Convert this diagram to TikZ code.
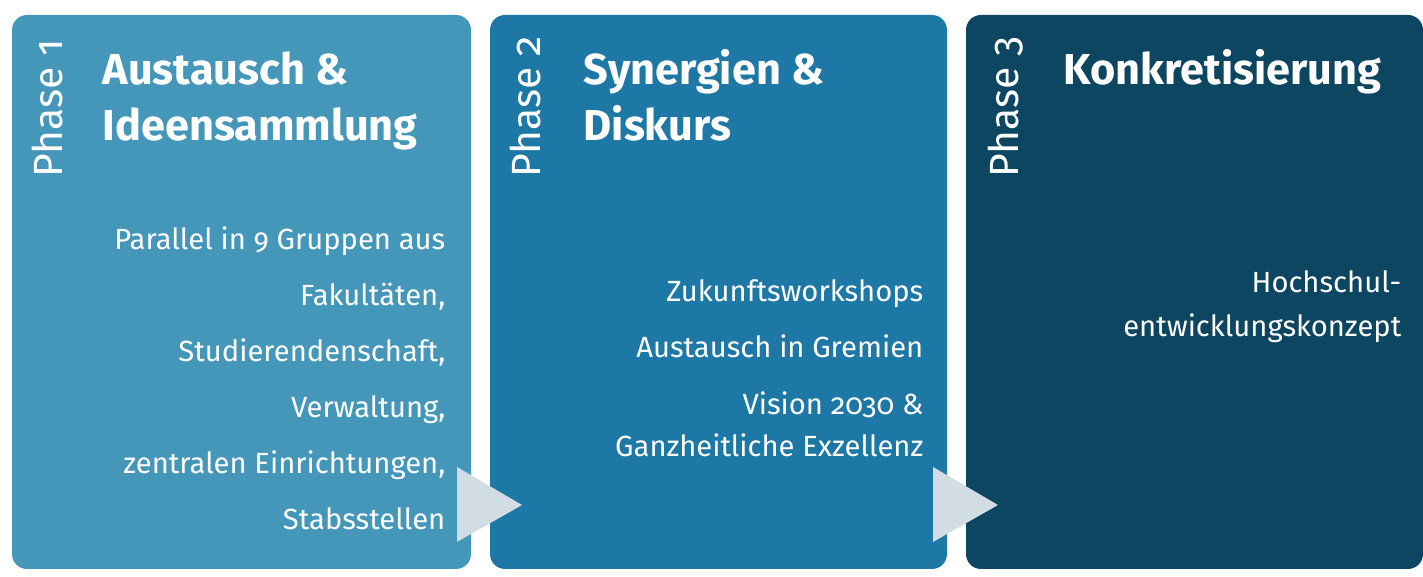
\documentclass[tikz,border=0pt]{standalone}
\usepackage{fontspec}
\setmainfont{Fira Sans}[Numbers=OldStyle]
\usepackage{tikz}

\definecolor{phaseA}{HTML}{4597BA}
\definecolor{phaseB}{HTML}{1E78A5}
\definecolor{phaseC}{HTML}{0D4661}
\definecolor{arrowgray}{HTML}{D1DDE2}

\tikzset{
  phasebox/.style={rounded corners=0.15cm},
  phaselabel/.style={text=white, inner sep=0pt, rotate=90, anchor=base west,
    font=\fontsize{11.6}{13}\selectfont},
  headline/.style={text=white, inner sep=0pt, anchor=base west,
    font=\bfseries\fontsize{12.3}{14}\selectfont},
  bodytext/.style={text=white, inner sep=0pt, anchor=base east,
    font=\fontsize{8.3}{10}\selectfont},
  arrowtip/.style={fill=arrowgray}
}

\begin{document}
\begin{tikzpicture}[x=0.01cm, y=-0.01cm]
  \useasboundingbox (0,0) rectangle (1423,577);

  % Phase boxes
  \fill[phasebox, phaseA] (12,15) rectangle (471,569);
  \fill[phasebox, phaseB] (490,15) rectangle (947,569);
  \fill[phasebox, phaseC] (966,15) rectangle (1423,569);

  % Arrows between phases
  \foreach \x in {457, 933}
    \fill[arrowtip] (\x,467) -- (\x,542) -- (\x+65,505) -- cycle;

  % Phase labels
  \foreach \x/\n in {62/1, 540/2, 1018/3}
    \node[phaselabel] (label\n) at (\x,178) {Phase \n};

  % Headlines
  \node[headline] (head1a) at (102,85) {Austausch \&};
  \node[headline] (head1b) at (102,141) {Ideensammlung};
  \node[headline] (head2a) at (583,85) {Synergien \&};
  \node[headline] (head2b) at (583,141) {Diskurs};
  \node[headline] (head3a) at (1063,85) {Konkretisierung};

  % Phase 1 text
  \foreach \y/\t [count=\i] in {250/Parallel in 9 Gruppen aus, 306/{Fakultäten,},
      362/{Studierendenschaft,}, 418/{Verwaltung,}, 474/{zentralen Einrichtungen,},
      530/Stabsstellen}
    \node[bodytext] (text1\i) at (446,\y) {\t};

  % Phase 2 text
  \foreach \y/\t [count=\i] in {302/Zukunftsworkshops, 358/Austausch in Gremien,
      415/Vision 2030 \&, 457/Ganzheitliche Exzellenz}
    \node[bodytext] (text2\i) at (924,\y) {\t};

  % Phase 3 text
  \foreach \y/\t [count=\i] in {293/Hochschul-, 337/entwicklungskonzept}
    \node[bodytext] (text3\i) at (1402,\y) {\t};
\end{tikzpicture}
\end{document}
